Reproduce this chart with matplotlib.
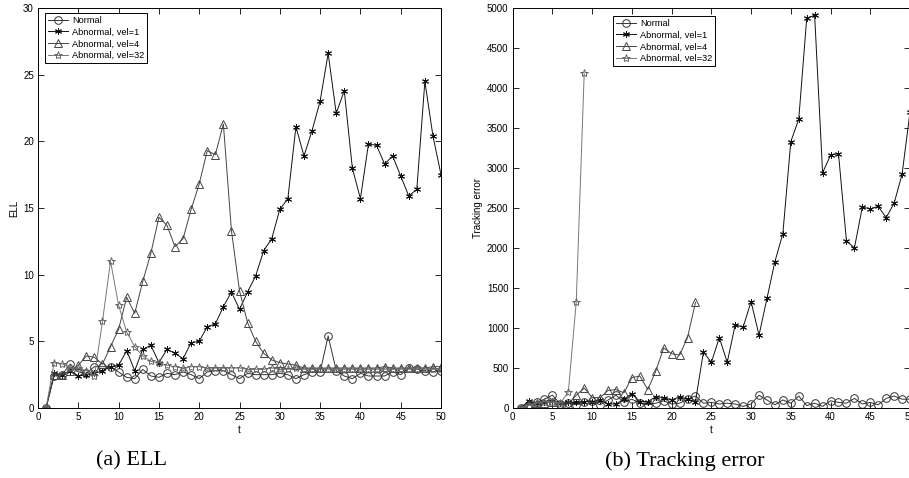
import matplotlib
matplotlib.use("Agg")
import matplotlib.pyplot as plt
import numpy as np

t = list(range(1, 51))

ell_normal = [0, 2.4, 2.5, 3.3, 2.7, 2.6, 3.1, 3.1, 3.1, 2.7,
              2.3, 2.2, 2.9, 2.4, 2.3, 2.6, 2.5, 2.7, 2.5, 2.2,
              2.7, 2.8, 2.8, 2.5, 2.2, 2.6, 2.5, 2.5, 2.5, 2.6,
              2.5, 2.2, 2.5, 2.7, 2.7, 5.4, 2.8, 2.4, 2.2, 2.6,
              2.4, 2.4, 2.4, 2.7, 2.5, 3.0, 2.9, 2.8, 2.7, 2.8]
ell_vel1 = [0, 2.6, 2.5, 2.8, 2.4, 2.5, 2.6, 2.8, 3.1, 3.2,
            4.3, 2.8, 4.4, 4.7, 3.4, 4.4, 4.1, 3.7, 4.9, 5.0,
            6.1, 6.3, 7.6, 8.7, 7.4, 8.7, 9.9, 11.8, 12.7, 14.9,
            15.7, 21.1, 18.9, 20.8, 23.0, 26.6, 22.1, 23.8, 18.0, 15.7,
            19.8, 19.7, 18.3, 18.9, 17.4, 15.9, 16.4, 24.5, 20.4, 17.5]
ell_vel4 = [0, 2.5, 2.5, 2.8, 3.2, 3.9, 3.8, 3.3, 4.6, 5.9,
            8.3, 7.1, 9.5, 11.6, 14.3, 13.7, 12.1, 12.7, 14.9, 16.8,
            19.3, 19.0, 21.3, 13.3, 8.8, 6.4, 5.0, 4.1, 3.6, 3.4,
            3.3, 3.2, 3.0, 3.0, 3.0, 3.0, 3.0, 3.0, 3.0, 3.0,
            3.0, 3.0, 3.1, 3.0, 3.0, 3.0, 3.0, 3.0, 3.1, 3.1]
ell_vel32 = [0, 3.4, 3.3, 3.0, 3.0, 2.8, 2.4, 6.5, 11.0, 7.7,
             5.7, 4.6, 3.9, 3.5, 3.4, 3.2, 3.1, 3.0, 3.1, 3.1,
             3.0, 3.0, 3.0, 3.0, 3.0, 2.9, 2.9, 2.9, 3.0, 2.9,
             2.9, 3.0, 2.9, 2.9, 2.9, 2.9, 2.9, 2.9, 2.9, 2.9,
             2.9, 2.9, 2.9, 2.9, 2.9, 2.9, 2.9, 2.9, 2.9, 2.9]

te_normal = [0, 40, 70, 110, 160, 50, 60, 40, 80, 90,
             40, 100, 160, 70, 110, 60, 40, 60, 90, 50,
             60, 110, 150, 60, 70, 50, 60, 50, 20, 50,
             160, 100, 40, 100, 60, 150, 30, 60, 20, 90,
             70, 60, 120, 50, 70, 40, 120, 150, 110, 110]
te_vel1 = [0, 90, 60, 80, 90, 60, 70, 70, 80, 80,
           100, 50, 50, 110, 180, 80, 80, 140, 130, 100,
           140, 110, 80, 700, 570, 880, 570, 1040, 1010, 1330,
           910, 1370, 1830, 2180, 3330, 3610, 4870, 4910, 2940, 3160,
           3180, 2090, 2000, 2510, 2490, 2520, 2380, 2560, 2920, 3700]
t_vel4 = list(range(1, 24))
te_vel4 = [0, 50, 60, 60, 80, 40, 50, 160, 250, 130,
           130, 220, 230, 190, 380, 400, 230, 460, 750, 680,
           660, 880, 1320]
t_vel32 = list(range(1, 10))
te_vel32 = [0, 30, 60, 80, 70, 60, 200, 1330, 4190]

labels = ["Normal", "Abnormal, vel=1", "Abnormal, vel=4", "Abnormal, vel=32"]

plt.rcParams['font.family'] = ['Liberation Sans', 'DejaVu Sans']

fig = plt.figure(figsize=(9.09, 4.78), dpi=100)
W, H = 909, 478

def px_axes(x0, y0, x1, y1):
    return fig.add_axes([x0 / W, 1 - y1 / H, (x1 - x0) / W, (y1 - y0) / H])

ax1 = px_axes(38, 8, 441, 408)
ax2 = px_axes(512.7, 8, 910, 408)

styles = [
    dict(color='#333333', marker='o', ms=5.5, mfc='none', mec='#333333'),
    dict(color='#111111', marker=(6, 2, 0), ms=5, mec='#111111'),
    dict(color='#444444', marker='^', ms=6, mfc='none', mec='#444444'),
    dict(color='#777777', marker='*', ms=6, mfc='none', mec='#666666'),
]

def draw(ax, series, ylim, yticks, ylabel, legend_loc):
    for (xs, ys), st, lab in zip(series, styles, labels):
        ax.plot(xs, ys, lw=0.7, mew=0.7, label=lab, **st)
    ax.set_xlim(0, 50)
    ax.set_ylim(*ylim)
    ax.set_xticks(range(0, 51, 5))
    ax.set_yticks(yticks)
    ax.tick_params(direction='in', top=True, right=True, labelsize=7, length=4, width=0.6, pad=3)
    for s in ax.spines.values():
        s.set_linewidth(0.7)
    ax.set_xlabel('t', fontsize=7, labelpad=2)
    ax.set_ylabel(ylabel, fontsize=7, labelpad=3)
    leg = ax.legend(loc='upper left', bbox_to_anchor=legend_loc, fontsize=6.7, frameon=True,
                    fancybox=False, edgecolor='black', framealpha=1, handlelength=2.2,
                    borderpad=0.3, labelspacing=0.3, handletextpad=0.4, borderaxespad=0)
    leg.get_frame().set_linewidth(0.7)

draw(ax1, [(t, ell_normal), (t, ell_vel1), (t, ell_vel4), (t, ell_vel32)],
     (0, 30), range(0, 31, 5), 'ELL', (7 / 403, 1 - 5 / 400))
draw(ax2, [(t, te_normal), (t, te_vel1), (t_vel4, te_vel4), (t_vel32, te_vel32)],
     (0, 5000), range(0, 5001, 500), 'Tracking error', (100 / 397, 1 - 8 / 400))

fig.text(132 / W, 1 - 461 / H, '(a) ELL', ha='center', va='center', fontsize=16,
         family=['Liberation Serif', 'DejaVu Serif'])
fig.text(685 / W, 1 - 461 / H, '(b) Tracking error', ha='center', va='center', fontsize=16,
         family=['Liberation Serif', 'DejaVu Serif'])

fig.savefig('out.png', dpi=100)
